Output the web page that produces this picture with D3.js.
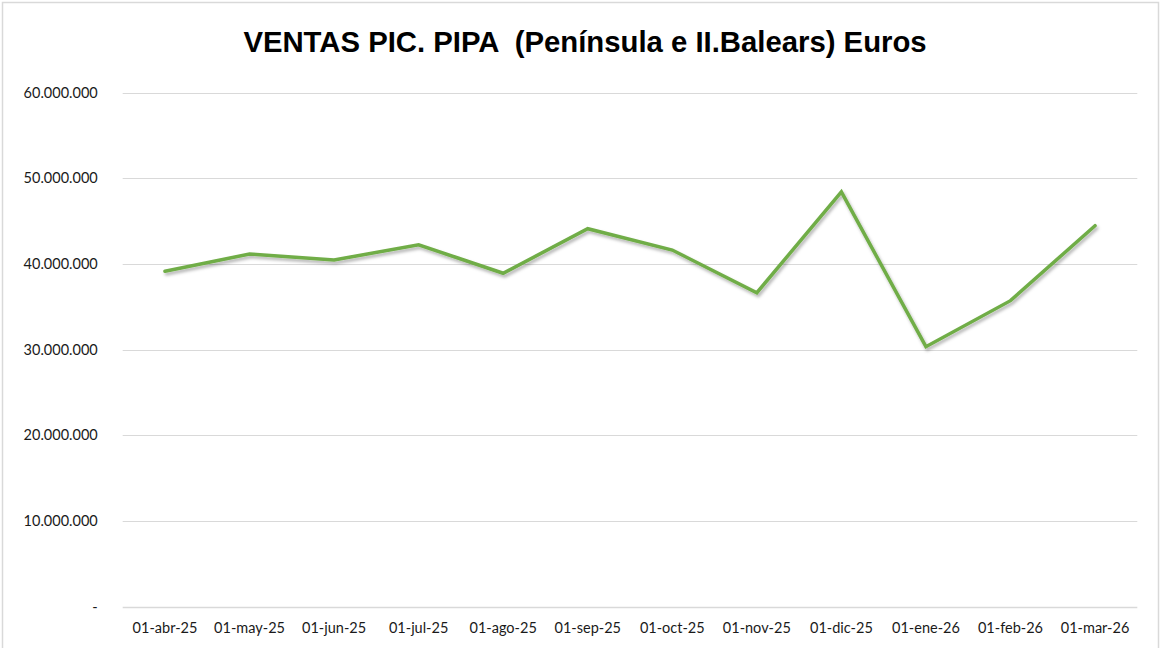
<!DOCTYPE html>
<html>
<head>
<meta charset="utf-8">
<script src="https://cdn.jsdelivr.net/npm/d3@7"></script>
<style>
  body { margin: 0; background: #fff; }
</style>
</head>
<body>
<div id="chart"></div>
<script>
// data
var months = ["01-abr-25", "01-may-25", "01-jun-25", "01-jul-25", "01-ago-25", "01-sep-25",
              "01-oct-25", "01-nov-25", "01-dic-25", "01-ene-26", "01-feb-26", "01-mar-26"];
var ventas = [39130000, 41150000, 40450000, 42230000, 38900000, 44100000,
              41610000, 36630000, 48390000, 30330000, 35700000, 44450000];
var yTicks = [0, 10000000, 20000000, 30000000, 40000000, 50000000, 60000000];

var W = 1161, H = 648;
var plotLeft = 122.7, plotRight = 1137.3, plotTop = 92.5, plotBottom = 606.5;
var labelFont = "Lato, 'Open Sans', sans-serif";

var svg = d3.select("#chart").append("svg")
    .attr("width", W)
    .attr("height", H);

// chart border
svg.append("rect")
    .attr("x", 2.5).attr("y", 2.5)
    .attr("width", W - 5).attr("height", H)
    .attr("fill", "#fff")
    .attr("stroke", "#d9d9d9")
    .attr("stroke-width", 1.5);

var defs = svg.append("defs");
var f = defs.append("filter").attr("id", "shadow")
    .attr("x", "-5%").attr("y", "-5%").attr("width", "110%").attr("height", "120%");
f.append("feDropShadow")
    .attr("dx", 1.5).attr("dy", 2.5).attr("stdDeviation", 1.5)
    .attr("flood-color", "#000").attr("flood-opacity", 0.3);

var x = d3.scaleBand().domain(months).range([plotLeft, plotRight]);
var y = d3.scaleLinear().domain([0, 60000000]).range([plotBottom, plotTop]);

var fmt = function(v) {
  if (v === 0) return "-";
  return d3.format(",")(v).replace(/,/g, ".");
};

// gridlines
svg.append("g")
  .selectAll("line")
  .data(yTicks)
  .enter().append("line")
    .attr("x1", plotLeft).attr("x2", plotRight)
    .attr("y1", function(d) { return Math.round(y(d)) + 0.5; })
    .attr("y2", function(d) { return Math.round(y(d)) + 0.5; })
    .attr("stroke", "#d9d9d9")
    .attr("stroke-width", function(d) { return d === 0 ? 1.5 : 1; });

// y axis labels
var yAxis = d3.axisLeft(y).tickValues(yTicks).tickFormat(fmt).tickSize(0).tickPadding(25);
var gy = svg.append("g").attr("transform", "translate(" + plotLeft + ",0)").call(yAxis);
gy.select(".domain").remove();
gy.selectAll("text")
    .style("font-size", "14.5px")
    .style("font-family", labelFont)
    .attr("fill", "#1a1a1a");

// x axis labels
var xAxis = d3.axisBottom(x).tickSize(0).tickPadding(16);
var gx = svg.append("g").attr("transform", "translate(0," + plotBottom + ")").call(xAxis);
gx.select(".domain").remove();
gx.selectAll("text")
    .style("font-size", "14.5px")
    .style("font-family", labelFont)
    .attr("fill", "#1a1a1a");

// line
var line = d3.line()
    .x(function(d, i) { return x(months[i]) + x.bandwidth() / 2; })
    .y(function(d) { return y(d); });

svg.append("path")
    .datum(ventas)
    .attr("d", line)
    .attr("fill", "none")
    .attr("stroke", "#70ad47")
    .attr("stroke-width", 3.5)
    .attr("stroke-linejoin", "miter")
    .attr("stroke-linecap", "round")
    .attr("filter", "url(#shadow)");

// title
svg.append("text")
    .attr("x", 585)
    .attr("y", 52)
    .attr("text-anchor", "middle")
    .style("font-family", "'Liberation Sans', Arial, sans-serif")
    .style("font-weight", "bold")
    .style("font-size", "29.3px")
    .style("white-space", "pre")
    .attr("fill", "#000")
    .text("VENTAS PIC. PIPA  (Península e II.Balears) Euros");
</script>
</body>
</html>
